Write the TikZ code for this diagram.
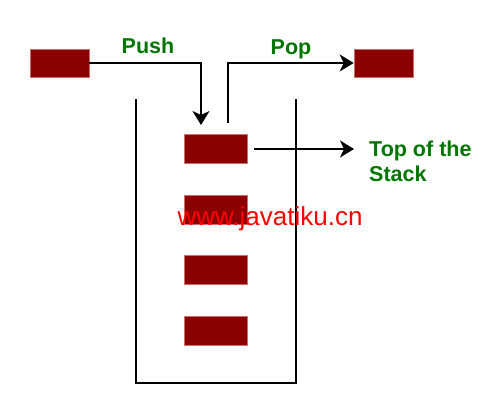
\documentclass[tikz,border=0pt]{standalone}
\usepackage{fontspec}
\setmainfont{Liberation Sans}
\usepackage{tikz}
\usetikzlibrary{arrows.meta,positioning,calc}

\definecolor{blockred}{RGB}{139,0,0}
\definecolor{blockedge}{RGB}{205,110,110}
\definecolor{labelgreen}{RGB}{0,118,0}

\begin{document}
\begin{tikzpicture}[
    x=1pt, y=-1pt,
    item/.style={rectangle, fill=blockred, draw=blockedge, line width=0.6pt, inner sep=0pt, minimum width=59pt, minimum height=28pt},
    slot/.style={item, minimum width=63pt, minimum height=29pt},
    lbl/.style={text=labelgreen, font=\fontsize{21.5}{25}\selectfont\bfseries, inner sep=0pt},
    arrow/.style={-{Stealth[length=14pt, width=17pt, inset=4pt]}, line width=1.6pt},
    wall/.style={line width=2pt}
  ]
    \useasboundingbox (0,0) rectangle (500,400);
    % incoming and outgoing items
    \node[item] (inL) at (59.5,63) {};
    \node[item] (outR) at (383.5,63) {};
    % stack container
    \draw[wall] (136,99) -- (136,383) -- (296,383) -- (296,99);
    % items in the stack
    \node[slot] (s1) at (215.5,149) {};
    \node[slot] (s2) at (215.5,209.5) {};
    \node[slot] (s3) at (215.5,270) {};
    \node[slot] (s4) at (215.5,330.5) {};
    % push and pop
    \coordinate (pushin) at (201,125);
    \coordinate (popout) at (228,123);
    \draw[arrow] (inL.east) -| (pushin);
    \draw[arrow] (popout) |- (outR.west);
    \node[lbl, anchor=base] (push) at (148,53) {Push};
    \node[lbl, anchor=base] (pop) at (291,54) {Pop};
    % top of the stack
    \node[lbl, anchor=west, align=left] (toplbl) at (369,161) {Top of the\\Stack};
    \draw[arrow] ([xshift=7pt]s1.east) -- ([xshift=-15pt]s1.east -| toplbl.west);
    % watermark
    \node[text=red, font=\fontsize{26}{30}\selectfont, inner sep=0pt, anchor=base] (mark) at (270,225) {www.javatiku.cn};
  \end{tikzpicture}
\end{document}
